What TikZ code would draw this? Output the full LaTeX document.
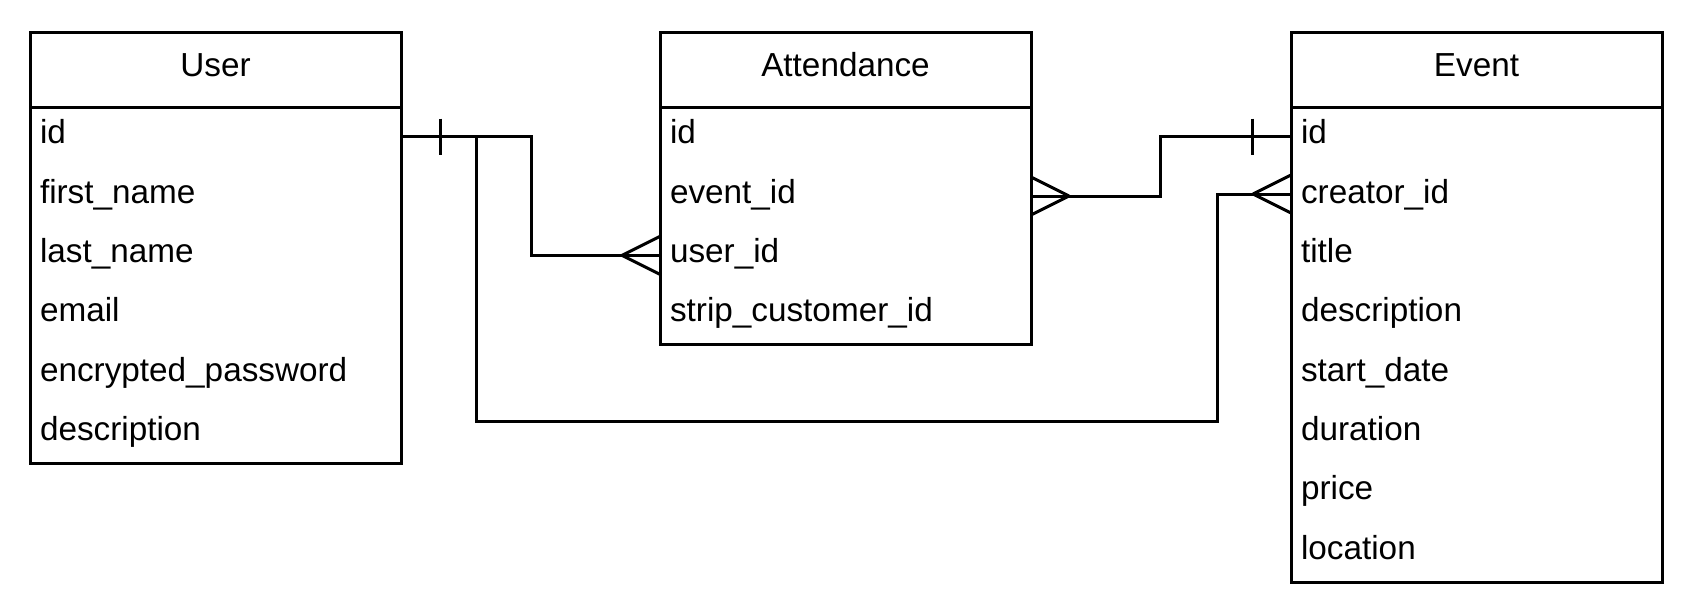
\documentclass[tikz,border=0pt]{standalone}
\usepackage{fontspec}
\setmainfont{Liberation Sans}
\begin{document}
\begin{tikzpicture}[x=1pt,y=-1pt,
  conn/.style={draw=black,line width=3pt},
  tbl/.style={draw=black,line width=3pt,minimum width=371pt,anchor=north west,inner sep=0pt,outer sep=0pt},
  ttl/.style={font=\fontsize{33.3}{40}\selectfont,text height=23pt,text depth=9pt,inner sep=0pt},
  row/.style={anchor=north west,minimum width=371pt,text width=351pt,inner xsep=10pt,inner ysep=0pt,outer sep=0pt,
    minimum height=59.33pt,align=left,text height=23pt,text depth=9pt,font=\fontsize{33.3}{40}\selectfont},
  crowin/.pic={\draw[conn] (-38,0) -- (0,-19) (-38,0) -- (0,19);},
  crowout/.pic={\draw[conn] (38,0) -- (0,-19) (38,0) -- (0,19);}
]
\useasboundingbox (0,0) rectangle (1692,614);

% User table
\node[tbl,minimum height=431pt] (user) at (30,32) {};
\node[ttl] (user-t) at (215.5,69.5) {User};
\node[row] (u-id)    at (30,107)    {id};
\node[row] (u-first) at (30,166.33) {first\_name};
\node[row] (u-last)  at (30,225.67) {last\_name};
\node[row] (u-email) at (30,285)    {email};
\node[row] (u-pw)    at (30,344.33) {encrypted\_password};
\node[row] (u-desc)  at (30,403.67) {description};
\draw[conn] (u-id.north west) -- (u-id.north east);

% Attendance table
\node[tbl,minimum height=312pt] (att) at (660,32) {};
\node[ttl] (att-t) at (845.5,69.5) {Attendance};
\node[row] (a-id)    at (660,107)    {id};
\node[row] (a-event) at (660,166.33) {event\_id};
\node[row] (a-user)  at (660,225.67) {user\_id};
\node[row] (a-strip) at (660,285)    {strip\_customer\_id};
\draw[conn] (a-id.north west) -- (a-id.north east);

% Event table
\node[tbl,minimum height=550pt] (event) at (1291,32) {};
\node[ttl] (event-t) at (1476.5,69.5) {Event};
\node[row] (e-id)      at (1291,107)    {id};
\node[row] (e-creator) at (1291,166.33) {creator\_id};
\node[row] (e-title)   at (1291,225.67) {title};
\node[row] (e-desc)    at (1291,285)    {description};
\node[row] (e-start)   at (1291,344.33) {start\_date};
\node[row] (e-dur)     at (1291,403.67) {duration};
\node[row] (e-price)   at (1291,463)    {price};
\node[row] (e-loc)     at (1291,522.33) {location};
\draw[conn] (e-id.north west) -- (e-id.north east);

% User.id -> Attendance.user_id
\draw[conn] (u-id.east) -- ++(130,0) |- (a-user.west);
\draw[conn] ([xshift=39pt]u-id.east) ++(0,-18) -- ++(0,36);
\pic at (a-user.west) {crowin};

% User.id -> Event.creator_id
\draw[conn] (u-id.east) -- ++(75,0) -- ++(0,285) -| ([xshift=-74pt,yshift=2pt]e-creator.west) -- ([yshift=2pt]e-creator.west);
\pic at ([yshift=2pt]e-creator.west) {crowin};

% Attendance.event_id -> Event.id
\draw[conn] (a-event.east) -- ++(129,0) |- (e-id.west);
\pic at (a-event.east) {crowout};
\draw[conn] ([xshift=-39pt]e-id.west) ++(0,-18) -- ++(0,36);
\end{tikzpicture}
\end{document}
